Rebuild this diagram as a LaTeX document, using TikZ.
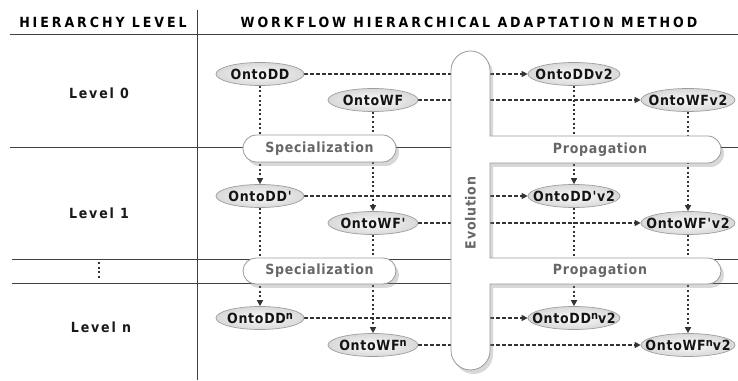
\documentclass[tikz,border=0pt]{standalone}
\usepackage{fontspec}
\setmainfont{DejaVu Sans}
\newfontfamily\lblfont[LetterSpace=5]{DejaVu Sans Condensed}
\newfontfamily\lvlfont[LetterSpace=13]{DejaVu Sans Condensed}
\newfontfamily\hdrfont[LetterSpace=21]{DejaVu Sans Condensed}
\newcommand{\supn}{\raisebox{3.8pt}{\fontsize{11}{11}\selectfont n}}
\usetikzlibrary{shapes.geometric,arrows.meta,shadows,backgrounds}
\tikzset{
  onto/.style={ellipse, draw=black!38, line width=0.7pt, inner color=black!2, outer color=black!15,
    inner sep=0pt, minimum height=23pt, font=\lblfont\bfseries\fontsize{14}{16}\selectfont, text=black!92},
  gridline/.style={draw=black!75, line width=0.8pt},
  evoarrow/.style={draw=black!80, line width=1.1pt, dash pattern=on 4pt off 2pt,
    -{Triangle[length=6pt,width=6pt]}},
  specarrow/.style={draw=black!80, line width=1.5pt, dash pattern=on 2pt off 2.6pt,
    -{Triangle[length=6pt,width=6pt]}},
  barshape/.style={draw=black!40, line width=0.8pt, fill=white,
    drop shadow={shadow xshift=3pt, shadow yshift=-4pt, opacity=0.3}},
  bartext/.style={font=\lblfont\bfseries\fontsize{14}{16}\selectfont, text=black!60},
  hdr/.style={font=\hdrfont\bfseries\fontsize{14}{16}\selectfont, text=black},
  lvl/.style={font=\lvlfont\bfseries\fontsize{14}{16}\selectfont, text=black!90}
}
\begin{document}
\begin{tikzpicture}[x=1pt,y=1pt]
\useasboundingbox (0,0) rectangle (738,380);

% ontology nodes
\node[onto, minimum width=88pt] (dd0) at (260,306) {\makebox[0pt]{OntoDD}};
\node[onto, minimum width=90pt] (wf0) at (373,280) {\makebox[0pt]{OntoWF}};
\node[onto, minimum width=92pt] (dd0v) at (574,306) {\makebox[0pt]{OntoDDv2}};
\node[onto, minimum width=94pt] (wf0v) at (688,280) {\makebox[0pt]{OntoWFv2}};

\node[onto, minimum width=88pt] (dd1) at (260,184) {\makebox[0pt]{OntoDD'}};
\node[onto, minimum width=90pt] (wf1) at (373,157) {\makebox[0pt]{OntoWF'}};
\node[onto, minimum width=92pt] (dd1v) at (574,184) {\makebox[0pt]{OntoDD'v2}};
\node[onto, minimum width=94pt] (wf1v) at (688,157) {\makebox[0pt]{OntoWF'v2}};

\node[onto, minimum width=88pt] (ddn) at (260,62) {\makebox[0pt]{OntoDD\supn}};
\node[onto, minimum width=90pt] (wfn) at (373,35) {\makebox[0pt]{OntoWF\supn}};
\node[onto, minimum width=92pt] (ddnv) at (574,62) {\makebox[0pt]{OntoDD\supn v2}};
\node[onto, minimum width=94pt] (wfnv) at (688,35) {\makebox[0pt]{OntoWF\supn v2}};

% headers and level labels
\node[hdr] (h1) at (103,358) {HIERARCHY LEVEL};
\node[hdr] (h2) at (469,358) {WORKFLOW HIERARCHICAL ADAPTATION METHOD};
\node[lvl] (l0) at (99,287) {Level 0};
\node[lvl] (l1) at (99,167) {Level 1};
\node[lvl] (ln) at (101,53) {Level n};

\begin{pgfonlayer}{background}
  \fill[white] (0,0) rectangle (738,380);
  % grid
  \draw[gridline] (197,370) -- (197,0);
  \draw[gridline] (10,346) -- (738,346);
  \draw[gridline] (10,233) -- (738,233);
  \draw[gridline] (12,121) -- (738,121);
  \draw[gridline] (12,97) -- (738,97);
  \draw[draw=black!80, line width=1.5pt, dash pattern=on 2pt off 2.6pt] (99,118) -- (99,100);
  % evolution arrows
  \draw[evoarrow] (dd0) -- (dd0v);
  \draw[evoarrow] (wf0) -- (wf0v);
  \draw[evoarrow] (dd1) -- (dd1v);
  \draw[evoarrow] (wf1) -- (wf1v);
  \draw[evoarrow] (ddn) -- (ddnv);
  \draw[evoarrow] (wfn) -- (wfnv);
  % specialization / propagation arrows
  \draw[specarrow] (dd0) -- (dd1);
  \draw[specarrow] (dd1) -- (ddn);
  \draw[specarrow] (wf0) -- (wf1);
  \draw[specarrow] (wf1) -- (wfn);
  \draw[specarrow] (dd0v) -- (dd1v);
  \draw[specarrow] (dd1v) -- (ddnv);
  \draw[specarrow] (wf0v) -- (wf1v);
  \draw[specarrow] (wf1v) -- (wfnv);
  % bars
  \node[barshape, rounded corners=13.5pt, minimum width=153pt, minimum height=27pt, bartext] (spec1) at (319.5,231.5) {Specialization};
  \node[barshape, rounded corners=13pt, minimum width=153pt, minimum height=26pt, bartext] (spec2) at (319.5,109) {Specialization};
  \path[barshape] (451,309.5) arc[start angle=180, end angle=0, radius=19.5]
    -- (490,244) -- (707.5,244) arc[start angle=90, end angle=-90, radius=13.5]
    -- (490,217) -- (490,122) -- (708,122) arc[start angle=90, end angle=-90, radius=13]
    -- (490,96) -- (490,29.5) arc[start angle=0, end angle=-180, radius=19.5] -- cycle;
  \node[bartext] (prop1) at (600,230.5) {Propagation};
  \node[bartext] (prop2) at (600,109) {Propagation};
  \node[bartext, rotate=90] (evo) at (470.5,167) {Evolution};
\end{pgfonlayer}
\end{tikzpicture}
\end{document}
